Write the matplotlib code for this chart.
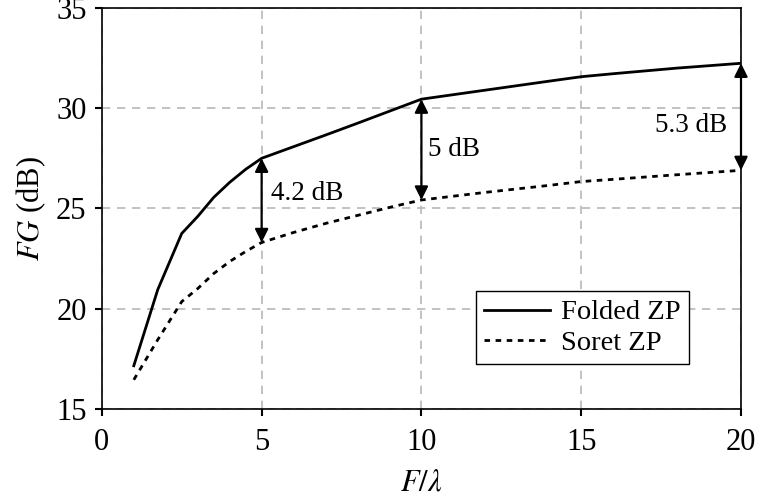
import matplotlib
matplotlib.use("Agg")
import matplotlib.pyplot as plt

plt.rcParams["font.family"] = ["Liberation Serif", "DejaVu Serif"]
plt.rcParams["mathtext.fontset"] = "stix"

# data
f_lambda = [1, 1.75, 2.5, 3, 3.5, 4, 4.5, 5, 6, 7, 8, 9, 10, 12, 14, 15, 16, 18, 20]
folded_zp = [17.15, 20.95, 23.75, 24.6, 25.55, 26.3, 26.95, 27.5, 28.08, 28.66,
             29.25, 29.85, 30.45, 30.9, 31.35, 31.57, 31.72, 32.0, 32.24]
soret_zp = [16.45, 18.45, 20.35, 21.0, 21.75, 22.35, 22.85, 23.3, 23.8, 24.25,
            24.65, 25.05, 25.42, 25.8, 26.15, 26.34, 26.45, 26.68, 26.9]

# gain differences marked with arrows
gap_x = [5, 10, 20]
gap_labels = ["4.2 dB", "5 dB", "5.3 dB"]

fig = plt.figure(figsize=(7.6, 4.98), dpi=100)
ax = fig.add_axes([0.134, 0.179, 0.841, 0.805])

ax.plot(f_lambda, folded_zp, color="black", lw=2, label="Folded ZP")
ax.plot(f_lambda, soret_zp, color="black", lw=2, linestyle=(0, (2, 2)), label="Soret ZP")

for gx, lab in zip(gap_x, gap_labels):
    i = f_lambda.index(gx)
    ax.annotate("", xy=(gx, soret_zp[i]), xytext=(gx, folded_zp[i]),
                arrowprops=dict(arrowstyle="<|-|>", color="black", lw=1.6,
                                mutation_scale=20, shrinkA=0, shrinkB=0))

ax.text(5.3, 25.72, gap_labels[0], fontsize=19.5, va="center", ha="left")
ax.text(10.2, 27.92, gap_labels[1], fontsize=19.5, va="center", ha="left")
ax.text(19.58, 29.16, gap_labels[2], fontsize=19.5, va="center", ha="right")

ax.set_xlim(0, 20)
ax.set_ylim(15, 35)
ax.set_xticks([0, 5, 10, 15, 20])
ax.set_yticks([15, 20, 25, 30, 35])
ax.grid(True, color="#b8b8b8", linestyle=(0, (5, 4)), lw=1.2)
ax.tick_params(labelsize=22, direction="out", length=5, width=1.5)
ax.tick_params(axis="x", pad=9)
ax.tick_params(axis="y", pad=6)
for s in ax.spines.values():
    s.set_linewidth(1.2)

ax.set_xlabel(r"$F/\lambda$", fontsize=22, labelpad=8)
ax.set_ylabel(r"$FG$ (dB)", fontsize=22, labelpad=6)

leg = ax.legend(loc="upper left", bbox_to_anchor=(0.585, 0.294), fontsize=20.5,
                fancybox=False, framealpha=1, edgecolor="black", handlelength=2.3,
                borderpad=0.3, labelspacing=0.15, handletextpad=0.4, borderaxespad=0)
leg.get_frame().set_linewidth(1.0)

fig.savefig("out.png", dpi=100)
